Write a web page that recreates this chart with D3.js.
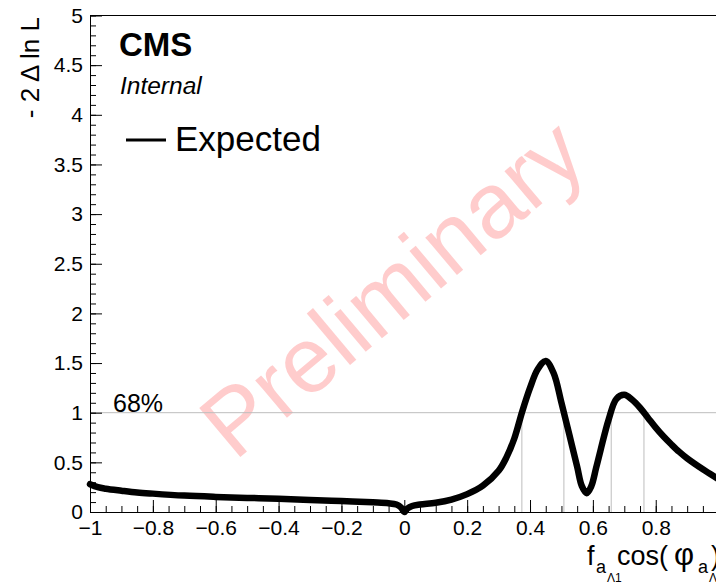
<!DOCTYPE html>
<html>
<head>
<meta charset="utf-8">
<script src="https://cdn.jsdelivr.net/npm/d3@7"></script>
<style>
  html, body { margin: 0; padding: 0; background: #fff; }
  svg { display: block; }
  text { font-family: "Liberation Sans", Arial, Helvetica, sans-serif; }
</style>
</head>
<body>
<svg id="chart" width="716" height="583"></svg>
<script>
// Expected likelihood scan: -2 Δ ln L versus f_a cos(φ_a)
const scanX = [-1.0, -0.975, -0.95, -0.9, -0.85, -0.8, -0.7, -0.6, -0.5, -0.4, -0.3, -0.2, -0.1,
  -0.05, -0.025, -0.01, 0.0, 0.01, 0.025, 0.05, 0.1, 0.15, 0.2, 0.25, 0.3, 0.325, 0.35, 0.375,
  0.4, 0.425, 0.45, 0.475, 0.5, 0.525, 0.55, 0.565, 0.58, 0.595, 0.61, 0.625, 0.65, 0.675,
  0.7, 0.725, 0.75, 0.775, 0.8, 0.825, 0.85, 0.875, 0.9, 0.95, 1.0];
const scanY = [0.28, 0.25, 0.235, 0.215, 0.197, 0.185, 0.165, 0.152, 0.142, 0.134, 0.122, 0.11, 0.097,
  0.088, 0.075, 0.045, 0.0, 0.035, 0.06, 0.075, 0.093, 0.125, 0.18, 0.265, 0.415, 0.55, 0.74, 1.01,
  1.25, 1.44, 1.52, 1.40, 1.10, 0.78, 0.455, 0.26, 0.19, 0.26, 0.44, 0.63, 0.93, 1.14,
  1.18, 1.13, 1.05, 0.95, 0.85, 0.76, 0.68, 0.605, 0.54, 0.43, 0.33];

const xTickLabels = [-1, -0.8, -0.6, -0.4, -0.2, 0, 0.2, 0.4, 0.6, 0.8];
const yTickLabels = [0, 0.5, 1, 1.5, 2, 2.5, 3, 3.5, 4, 4.5, 5];
const clLevel = 1;          // -2 Δ ln L threshold
const clLabel = "68%";
const seriesName = "Expected";

const svg = d3.select("#chart");
const padL = 90, padR = 718.6, padT = 15.5, padB = 512;

const x = d3.scaleLinear().domain([-1, 1]).range([padL, padR]);
const y = d3.scaleLinear().domain([0, 5]).range([padB, padT]);

// Watermark
svg.append("text")
  .attr("transform", "translate(392,288) rotate(-40)")
  .attr("text-anchor", "middle")
  .attr("dominant-baseline", "central")
  .attr("font-size", 93)
  .attr("fill", "#ff0000")
  .attr("fill-opacity", 0.2)
  .text("Preliminary");

// Threshold line and interval boundaries
svg.append("line")
  .attr("x1", padL).attr("x2", padR)
  .attr("y1", y(clLevel)).attr("y2", y(clLevel))
  .attr("stroke", "#bdbdbd").attr("stroke-width", 1);

const crossings = [];
for (let i = 1; i < scanX.length; i++) {
  const a = scanY[i - 1] - clLevel, b = scanY[i] - clLevel;
  if (a * b < 0) {
    const t = a / (a - b);
    crossings.push(scanX[i - 1] + t * (scanX[i] - scanX[i - 1]));
  }
}
svg.selectAll("line.cross").data(crossings).enter().append("line")
  .attr("class", "cross")
  .attr("x1", d => x(d)).attr("x2", d => x(d))
  .attr("y1", y(0)).attr("y2", y(clLevel))
  .attr("stroke", "#bdbdbd").attr("stroke-width", 1);

svg.append("text")
  .attr("x", 113).attr("y", 412)
  .attr("font-family", "DejaVu Sans")
  .attr("font-size", 25)
  .attr("fill", "#000")
  .text(clLabel);

// Axes (ticks pointing into the frame)
const xMinor = d3.range(-1, 1.0001, 0.05).map(v => +v.toFixed(2));
const xMajor = d3.range(-1, 1.0001, 0.2).map(v => +v.toFixed(1));
const yMinor = d3.range(0, 5.0001, 0.1).map(v => +v.toFixed(1));

svg.append("g").attr("transform", `translate(0,${padB})`)
  .call(d3.axisBottom(x).tickValues(xMinor).tickSize(-6).tickSizeOuter(0).tickFormat(""))
  .call(g => g.select(".domain").remove());
svg.append("g").attr("transform", `translate(0,${padB})`)
  .call(d3.axisBottom(x).tickValues(xMajor).tickSize(-12).tickSizeOuter(0).tickFormat(""))
  .call(g => g.select(".domain").remove());
const gx = svg.append("g").attr("transform", `translate(0,${padB})`)
  .call(d3.axisBottom(x).tickValues(xTickLabels).tickSize(0).tickSizeOuter(0).tickPadding(8)
    .tickFormat(d3.format("~g")));
gx.selectAll("text").attr("font-size", 21).attr("font-family", "Liberation Sans").attr("fill", "#000");

svg.append("g").attr("transform", `translate(${padL},0)`)
  .call(d3.axisLeft(y).tickValues(yMinor).tickSize(-6).tickSizeOuter(0).tickFormat(""))
  .call(g => g.select(".domain").remove());
const gy = svg.append("g").attr("transform", `translate(${padL},0)`)
  .call(d3.axisLeft(y).tickValues(yTickLabels).tickSize(-12).tickSizeOuter(0).tickPadding(7)
    .tickFormat(d3.format("~g")));
gy.selectAll("text").attr("font-size", 21).attr("font-family", "Liberation Sans").attr("fill", "#000");

svg.selectAll(".tick line").attr("stroke", "#000");
svg.selectAll(".domain").attr("stroke", "#000");

// Top frame edge
svg.append("line")
  .attr("x1", padL).attr("x2", padR)
  .attr("y1", padT).attr("y2", padT)
  .attr("stroke", "#000").attr("stroke-width", 1);

// Scan curve
const pts = scanX.map((v, i) => [v, scanY[i]]);
svg.append("path")
  .datum(pts)
  .attr("fill", "none")
  .attr("stroke", "#000")
  .attr("stroke-width", 6.5)
  .attr("stroke-linejoin", "round")
  .attr("stroke-linecap", "round")
  .attr("d", d3.line().x(d => x(d[0])).y(d => y(d[1])).curve(d3.curveCatmullRom.alpha(0.5)));

// Axis titles
svg.append("text")
  .attr("transform", "translate(39,17) rotate(-90)")
  .attr("text-anchor", "end")
  .attr("font-size", 26)
  .text("- 2 \u0394 ln L");

const xt = svg.append("text").attr("font-size", 27).attr("fill", "#000");
xt.append("tspan").attr("x", 587).attr("y", 565).text("f");
xt.append("tspan").attr("x", 596).attr("y", 573).attr("font-size", 18).text("a");
xt.append("tspan").attr("x", 607).attr("y", 582).attr("font-size", 12).text("\u039b1");
xt.append("tspan").attr("x", 617).attr("y", 565).text("cos(");
xt.append("tspan").attr("x", 674).attr("y", 565).attr("font-size", 31).text("\u03c6");
xt.append("tspan").attr("x", 698).attr("y", 573).attr("font-size", 18).text("a");
xt.append("tspan").attr("x", 709).attr("y", 582).attr("font-size", 12).text("\u039b1");
xt.append("tspan").attr("x", 711).attr("y", 565).text(")");

// Labels and legend
svg.append("text").attr("x", 119).attr("y", 56)
  .attr("font-size", 33).attr("font-weight", "bold").text("CMS");
svg.append("text").attr("x", 120).attr("y", 94)
  .attr("font-size", 24.5).attr("font-style", "italic").text("Internal");

svg.append("line")
  .attr("x1", 126).attr("x2", 166).attr("y1", 140).attr("y2", 140)
  .attr("stroke", "#000").attr("stroke-width", 3);
svg.append("text").attr("x", 175).attr("y", 151)
  .attr("font-size", 35).text(seriesName);
</script>
</body>
</html>
